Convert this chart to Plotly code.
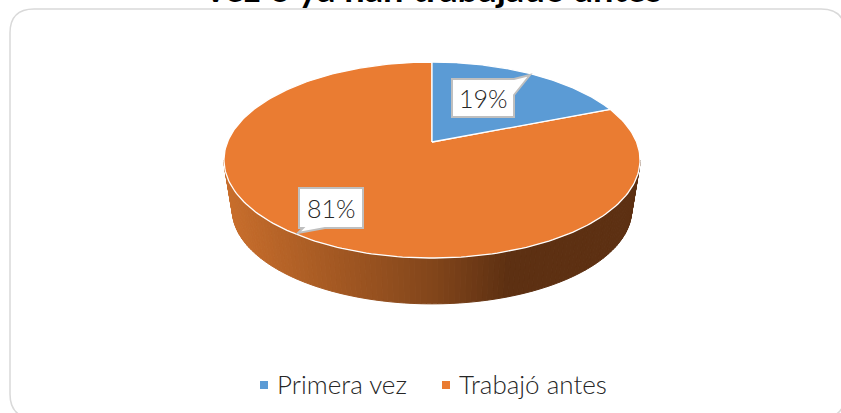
import numpy as np
import plotly.graph_objects as go

categories = ["Primera vez", "Trabajó antes"]
shares = [19, 81]
slice_colors = ["#5B9BD5", "#EA7C32"]
title_text = "vez o ya han trabajado antes"

W, H = 841, 413
FONT = "Lato"
CX, APEX, R, A, C = 432, 142, 204.5, 94.7, 0.1837
DEPTH, SCALE = 50.5, 0.96


def rim(t, scale=1.0, drop=0.0):
    u, v = np.sin(t), np.cos(t)
    k = 1 + C * v
    return CX + scale * R * u / k, APEX + drop - scale * A * v / k


def mix(x):
    stops_x = [226, 432, 510, 640]
    stops = np.array([[200, 110, 44], [131, 70, 27], [93, 48, 18], [93, 48, 18]])
    return "rgb(%d,%d,%d)" % tuple(np.interp(x, stops_x, stops[:, i]) for i in range(3))


fig = go.Figure()

# Side wall, strip by strip
t1 = np.arccos(-C)
t2 = 2 * np.pi - t1
edges = np.linspace(t1, t2, 121)
for a, b in zip(edges[:-1], edges[1:]):
    ts = np.linspace(a, b, 4)
    xt, yt = rim(ts)
    xb, yb = rim(ts[::-1], SCALE, DEPTH)
    col = mix(float(np.mean(xt)))
    fig.add_trace(go.Scatter(
        x=np.r_[xt, xb, xt[0]], y=np.r_[yt, yb, yt[0]], mode="lines", fill="toself",
        fillcolor=col, line=dict(color=col, width=1), hoverinfo="skip", showlegend=False))

# Top face, from the shares
bounds = np.r_[0, np.cumsum(shares)] / sum(shares) * 2 * np.pi
order = [1, 0]
for i in order:
    ts = np.linspace(bounds[i], bounds[i + 1], 240)
    x, y = rim(ts)
    fig.add_trace(go.Scatter(
        x=np.r_[CX, x, CX], y=np.r_[APEX, y, APEX], mode="lines", fill="toself",
        fillcolor=slice_colors[i], line=dict(color="white", width=1.3),
        name=categories[i], hoverinfo="name", showlegend=False))

# Legend swatches
legend_marks = [264, 446]
legend_text = [276, 458]
for i, cat in enumerate(categories):
    fig.add_trace(go.Scatter(
        x=[legend_marks[i]], y=[385], mode="markers", name=cat, showlegend=False,
        marker=dict(symbol="square", size=8, color=slice_colors[i]), hoverinfo="skip"))

annotations = [
    dict(x=434, y=3, text=f"<b>{title_text}</b>", showarrow=False, xanchor="center", yanchor="bottom",
         yshift=-9, font=dict(family=FONT, size=36.3, color="black")),
]
for i, cat in enumerate(categories):
    annotations.append(dict(x=legend_text[i], y=384, text=cat, showarrow=False, xanchor="left",
                            yanchor="middle", xshift=-1,
                            font=dict(family=FONT, size=26, color="#262626", weight=300)))

label_pos = [(483, 98), (331, 208)]
for i, s in enumerate(shares):
    annotations.append(dict(x=label_pos[i][0], y=label_pos[i][1], text=f"{s}%", showarrow=False,
                            font=dict(family=FONT, size=25, color="#262626", weight=300)))

shapes = [
    dict(type="path", layer="below",
         path="M 10 33 Q 10 9 34 9 L 821 9 Q 845 9 845 33 L 845 394 Q 845 418 821 418 L 34 418 Q 10 418 10 394 Z",
         line=dict(color="#D9D9D9", width=1.5), fillcolor="white"),
    dict(type="path", path="M 452 79 L 514 79 L 530 75 L 514 95 L 514 117 L 452 117 Z",
         line=dict(color="#BFBFBF", width=2), fillcolor="white"),
    dict(type="path", path="M 299 188 L 363 188 L 363 228 L 325 228 L 298 233 L 303 228 L 299 228 Z",
         line=dict(color="#BFBFBF", width=2), fillcolor="white"),
]

fig.update_layout(
    width=W, height=H, autosize=False, margin=dict(l=0, r=0, t=0, b=0),
    paper_bgcolor="white", plot_bgcolor="rgba(0,0,0,0)", showlegend=False,
    xaxis=dict(range=[0, W], visible=False, fixedrange=True),
    yaxis=dict(range=[H, 0], visible=False, fixedrange=True),
    shapes=shapes, annotations=annotations,
)
fig.write_html("out.html", config={"displayModeBar": False},
               post_script="document.body.style.margin='0';document.body.style.overflow='hidden';")
